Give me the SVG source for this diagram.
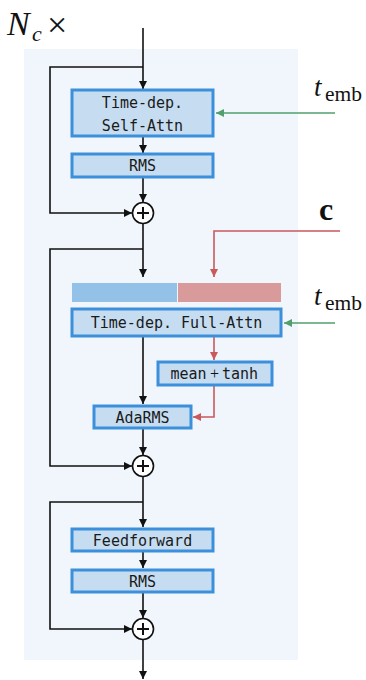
<svg xmlns="http://www.w3.org/2000/svg" width="366" height="680" viewBox="0 0 366 680">
  <style>
    .box { fill: #c6ddf1; stroke: #3b8fdb; stroke-width: 3; }
    .lbl { font-family: "DejaVu Sans Mono", "Liberation Mono", monospace; font-size: 15px; fill: #1a1a1a; text-anchor: middle; }
    .wire { fill: none; stroke: #111; stroke-width: 1.6; }
    .wire-r { fill: none; stroke: #c85a5c; stroke-width: 1.6; }
    .wire-g { fill: none; stroke: #4fa06c; stroke-width: 1.6; }
    .sum circle { fill: #ffffff; stroke: #111; stroke-width: 1.6; }
    .sum path { stroke: #111; stroke-width: 2; fill: none; }
    .math { font-family: "Liberation Serif", "DejaVu Serif", serif; fill: #111; }
  </style>
  <defs>
    <marker id="ah" viewBox="0 0 10 10" refX="10" refY="5" markerWidth="8" markerHeight="8" markerUnits="userSpaceOnUse" orient="auto">
      <path d="M0,0 L10,5 L0,10 z" fill="#111"/>
    </marker>
    <marker id="ah-r" viewBox="0 0 10 10" refX="10" refY="5" markerWidth="8" markerHeight="8" markerUnits="userSpaceOnUse" orient="auto">
      <path d="M0,0 L10,5 L0,10 z" fill="#c85a5c"/>
    </marker>
    <marker id="ah-g" viewBox="0 0 10 10" refX="10" refY="5" markerWidth="8" markerHeight="8" markerUnits="userSpaceOnUse" orient="auto">
      <path d="M0,0 L10,5 L0,10 z" fill="#4fa06c"/>
    </marker>
  </defs>

  <!-- repeated block panel -->
  <rect x="24" y="49" width="274" height="611" fill="#f0f6fb"/>

  <!-- labels -->
  <g id="label-nc">
    <text class="math" x="7" y="35" font-size="34" font-style="italic">N</text>
    <text class="math" x="32" y="41" font-size="22" font-style="italic">c</text>
    <text class="math" x="47" y="37" font-size="36">×</text>
  </g>
  <g id="label-temb-1">
    <text class="math" x="314" y="96" font-size="27" font-style="italic">t</text>
    <text class="math" x="325" y="101" font-size="21" textLength="37" lengthAdjust="spacingAndGlyphs">emb</text>
  </g>
  <g id="label-c">
    <text class="math" x="319" y="220" font-size="32" font-weight="bold">c</text>
  </g>
  <g id="label-temb-2">
    <text class="math" x="314" y="305" font-size="27" font-style="italic">t</text>
    <text class="math" x="325" y="310" font-size="21" textLength="37" lengthAdjust="spacingAndGlyphs">emb</text>
  </g>

  <!-- connectors -->
  <g id="connectors">
    <!-- self-attention sub-block -->
    <path class="wire" d="M143,28 V89" marker-end="url(#ah)"/>
    <path class="wire" d="M143,67 H50 V213 H132" marker-end="url(#ah)"/>
    <path class="wire" d="M143,137 V153" marker-end="url(#ah)"/>
    <path class="wire" d="M143,178 V202" marker-end="url(#ah)"/>
    <path class="wire-g" d="M335,113 H216" marker-end="url(#ah-g)"/>

    <!-- full-attention sub-block -->
    <path class="wire" d="M143,224 V249"/>
    <path class="wire" d="M143,249 V277" marker-end="url(#ah)"/>
    <path class="wire" d="M143,249 H50 V466 H132" marker-end="url(#ah)"/>
    <path class="wire-r" d="M340,231 H214 V277" marker-end="url(#ah-r)"/>
    <path class="wire-g" d="M335,323 H284" marker-end="url(#ah-g)"/>
    <path class="wire" d="M143,337 V404" marker-end="url(#ah)"/>
    <path class="wire-r" d="M214,337 V360" marker-end="url(#ah-r)"/>
    <path class="wire-r" d="M214,386 V417 H193" marker-end="url(#ah-r)"/>
    <path class="wire" d="M143,429 V455" marker-end="url(#ah)"/>

    <!-- feedforward sub-block -->
    <path class="wire" d="M143,477 V527" marker-end="url(#ah)"/>
    <path class="wire" d="M143,502 H50 V629 H132" marker-end="url(#ah)"/>
    <path class="wire" d="M143,552 V568" marker-end="url(#ah)"/>
    <path class="wire" d="M143,593 V618" marker-end="url(#ah)"/>
    <path class="wire" d="M143,640 V679" marker-end="url(#ah)"/>
  </g>

  <!-- nodes -->
  <g id="self-attn">
    <rect class="box" x="72" y="90" width="141" height="46"/>
    <text class="lbl" x="142.5" y="108">Time-dep.</text>
    <text class="lbl" x="142.5" y="131">Self-Attn</text>
  </g>
  <g id="rms-1">
    <rect class="box" x="72" y="154" width="141" height="23"/>
    <text class="lbl" x="142.5" y="171">RMS</text>
  </g>
  <g id="sum-1" class="sum">
    <circle cx="143" cy="213" r="10.5"/>
    <path d="M137,213 H149 M143,207 V219"/>
  </g>

  <g id="tokens">
    <rect x="72" y="283" width="105" height="19" fill="#93c1e8"/>
    <rect x="178" y="283" width="103" height="19" fill="#d89a9a"/>
  </g>
  <g id="full-attn">
    <rect class="box" x="72" y="309" width="209" height="27"/>
    <text class="lbl" x="176.5" y="328">Time-dep. Full-Attn</text>
  </g>
  <g id="mean-tanh">
    <rect class="box" x="158" y="362" width="114" height="23"/>
    <text class="lbl" x="188.5" y="378.5">mean</text>
    <text class="math" x="214.5" y="379" font-size="16" text-anchor="middle">+</text>
    <text class="lbl" x="240" y="378.5">tanh</text>
  </g>
  <g id="adarms">
    <rect class="box" x="94" y="406" width="97" height="22"/>
    <text class="lbl" x="142.5" y="422.5">AdaRMS</text>
  </g>
  <g id="sum-2" class="sum">
    <circle cx="143" cy="466" r="10.5"/>
    <path d="M137,466 H149 M143,460 V472"/>
  </g>

  <g id="feedforward">
    <rect class="box" x="72" y="529" width="141" height="22"/>
    <text class="lbl" x="142.5" y="545.5">Feedforward</text>
  </g>
  <g id="rms-2">
    <rect class="box" x="72" y="570" width="141" height="22"/>
    <text class="lbl" x="142.5" y="586.5">RMS</text>
  </g>
  <g id="sum-3" class="sum">
    <circle cx="143" cy="629" r="10.5"/>
    <path d="M137,629 H149 M143,623 V635"/>
  </g>
</svg>
